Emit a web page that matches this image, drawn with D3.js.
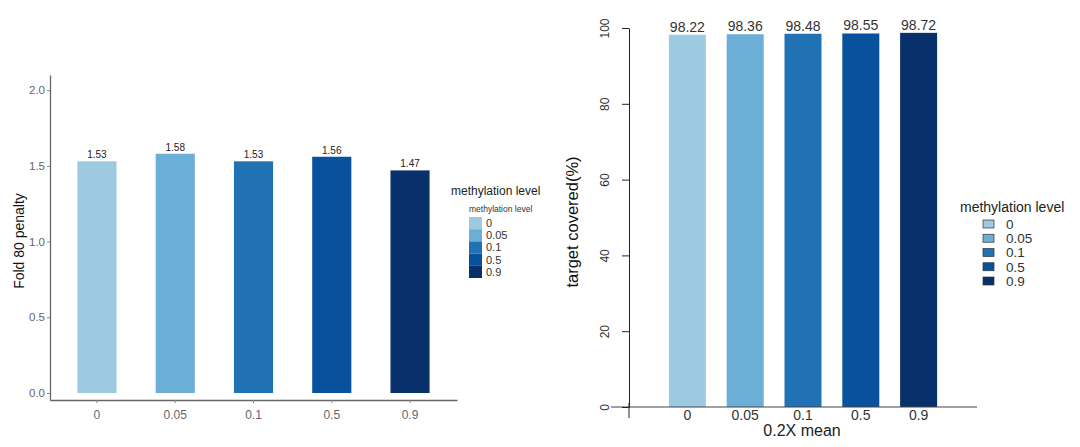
<!DOCTYPE html>
<html>
<head>
<meta charset="utf-8">
<script src="https://cdn.jsdelivr.net/npm/d3@7"></script>
<style>
  body { margin: 0; background: #fff; }
  svg { font-family: Arial, "Liberation Sans", sans-serif; }
</style>
</head>
<body>
<svg id="chart" width="1080" height="447"></svg>
<script>
// methylation levels shared by both panels
var levels = ["0", "0.05", "0.1", "0.5", "0.9"];
var colors = ["#9ecae1", "#6baed6", "#2171b5", "#08519c", "#08306b"];
// left panel: Fold 80 penalty
var foldValues = [1.53, 1.58, 1.53, 1.56, 1.47];
var foldTicks = [0, 0.5, 1.0, 1.5, 2.0];
// right panel: target covered(%) at 0.2X mean
var coverValues = [98.22, 98.36, 98.48, 98.55, 98.72];
var coverTicks = [0, 20, 40, 60, 80, 100];

var svg = d3.select("#chart");
var color = d3.scaleOrdinal().domain(levels).range(colors);

/* ---------- left panel (ggplot style) ---------- */
var gL = svg.append("g");
var xL = d3.scaleBand().domain(levels).range([50, 457]).paddingInner(0.5).paddingOuter(0.35);
var yL = d3.scaleLinear().domain([-0.0463, 2.1]).range([400, 75]);

gL.selectAll("rect.bar")
  .data(foldValues)
  .enter().append("rect")
    .attr("class", "bar")
    .attr("x", (d, i) => xL(levels[i]))
    .attr("width", xL.bandwidth())
    .attr("y", d => yL(d))
    .attr("height", d => yL(0) - yL(d))
    .attr("fill", (d, i) => color(levels[i]));

gL.selectAll("text.val")
  .data(foldValues)
  .enter().append("text")
    .attr("class", "val")
    .attr("x", (d, i) => xL(levels[i]) + xL.bandwidth() / 2)
    .attr("y", d => yL(d) - 3)
    .attr("text-anchor", "middle")
    .attr("font-size", 10)
    .attr("fill", "#222")
    .text(d => d.toFixed(2));

var axL = gL.append("g")
  .attr("transform", "translate(50,0)")
  .call(d3.axisLeft(yL).tickValues(foldTicks).tickFormat(d3.format(".1f")).tickSize(3).tickSizeOuter(0));
axL.selectAll("text").attr("font-size", 11.5).attr("fill", "#666").attr("dx", 1);
axL.selectAll("line").attr("stroke", "#888");
axL.select(".domain").attr("stroke", "#666").attr("stroke-width", 1.3);

var axLx = gL.append("g")
  .attr("transform", "translate(0,400)")
  .call(d3.axisBottom(xL).tickSize(3).tickSizeOuter(0));
axLx.selectAll("text").attr("font-size", 12).attr("fill", "#666").attr("dy", "1.1em");
axLx.selectAll("line").attr("stroke", "#888");
axLx.select(".domain").attr("stroke", "#666").attr("stroke-width", 1.3);

gL.append("text")
  .attr("transform", "translate(24,241) rotate(-90)")
  .attr("text-anchor", "middle")
  .attr("font-size", 14)
  .attr("fill", "#111")
  .text("Fold 80 penalty");

// left legend
var legL = gL.append("g");
legL.append("text").attr("x", 451).attr("y", 195).attr("font-size", 12).attr("fill", "#222").text("methylation level");
legL.append("text").attr("x", 469).attr("y", 212).attr("font-size", 8.5).attr("fill", "#333").text("methylation level");
var keyL = d3.scaleBand().domain(levels).range([217, 278]);
legL.selectAll("rect")
  .data(levels)
  .enter().append("rect")
    .attr("x", 469)
    .attr("y", d => keyL(d))
    .attr("width", 13)
    .attr("height", keyL.bandwidth())
    .attr("fill", d => color(d));
legL.selectAll("text.lab")
  .data(levels)
  .enter().append("text")
    .attr("class", "lab")
    .attr("x", 486)
    .attr("y", d => keyL(d) + keyL.bandwidth() / 2)
    .attr("dy", "0.36em")
    .attr("font-size", 11)
    .attr("fill", "#333")
    .text(d => d);

/* ---------- right panel (base R style) ---------- */
var gR = svg.append("g");
var xR = d3.scaleBand().domain(levels).range([629, 977]).paddingInner(0.36).paddingOuter(0.69);
var yR = d3.scaleLinear().domain([0, 100]).range([407, 28]);

gR.selectAll("rect.bar")
  .data(coverValues)
  .enter().append("rect")
    .attr("class", "bar")
    .attr("x", (d, i) => xR(levels[i]))
    .attr("width", xR.bandwidth())
    .attr("y", d => yR(d))
    .attr("height", d => yR(0) - yR(d))
    .attr("fill", (d, i) => color(levels[i]));

gR.selectAll("text.val")
  .data(coverValues)
  .enter().append("text")
    .attr("class", "val")
    .attr("x", (d, i) => xR(levels[i]) + xR.bandwidth() / 2)
    .attr("y", d => yR(d) - 3)
    .attr("text-anchor", "middle")
    .attr("font-size", 14)
    .attr("fill", "#333")
    .text(d => d.toFixed(2));

// baseline across the bars
gR.append("line")
  .attr("x1", 611).attr("x2", 977)
  .attr("y1", yR(0)).attr("y2", yR(0))
  .attr("stroke", "#444").attr("stroke-width", 1);

var axR = gR.append("g")
  .attr("transform", "translate(629,0)")
  .call(d3.axisLeft(yR).tickValues(coverTicks).tickSize(7).tickSizeOuter(0));
axR.select(".domain").attr("stroke", "#222");
axR.selectAll("line").attr("stroke", "#222");
axR.selectAll(".tick text")
  .attr("font-size", 12)
  .attr("fill", "#333")
  .attr("x", 0).attr("dy", 0)
  .attr("text-anchor", "middle")
  .attr("transform", "translate(-24,0) rotate(-90)")
  .attr("y", 4);

// small tick under the y axis
gR.append("line")
  .attr("x1", 629).attr("x2", 629)
  .attr("y1", yR(0) - 4).attr("y2", yR(0) + 11)
  .attr("stroke", "#222");

gR.selectAll("text.xlab")
  .data(levels)
  .enter().append("text")
    .attr("class", "xlab")
    .attr("x", d => xR(d) + xR.bandwidth() / 2)
    .attr("y", 420)
    .attr("text-anchor", "middle")
    .attr("font-size", 14)
    .attr("fill", "#333")
    .text(d => d);

gR.append("text")
  .attr("x", 802).attr("y", 436)
  .attr("text-anchor", "middle")
  .attr("font-size", 16)
  .attr("fill", "#222")
  .text("0.2X mean");

gR.append("text")
  .attr("transform", "translate(578,222) rotate(-90)")
  .attr("text-anchor", "middle")
  .attr("font-size", 16.5)
  .attr("fill", "#111")
  .text("target covered(%)");

// right legend
var legR = gR.append("g");
legR.append("text").attr("x", 960).attr("y", 212).attr("font-size", 14).attr("fill", "#222").text("methylation level");
var keyR = d3.scalePoint().domain(levels).range([224, 281]);
legR.selectAll("rect")
  .data(levels)
  .enter().append("rect")
    .attr("x", 983)
    .attr("y", d => keyR(d) - 4)
    .attr("width", 11)
    .attr("height", 8)
    .attr("fill", d => color(d))
    .attr("stroke", "#333")
    .attr("stroke-width", 0.7);
legR.selectAll("text.lab")
  .data(levels)
  .enter().append("text")
    .attr("class", "lab")
    .attr("x", 1006)
    .attr("y", d => keyR(d))
    .attr("dy", "0.36em")
    .attr("font-size", 13.5)
    .attr("fill", "#333")
    .text(d => d);
</script>
</body>
</html>
